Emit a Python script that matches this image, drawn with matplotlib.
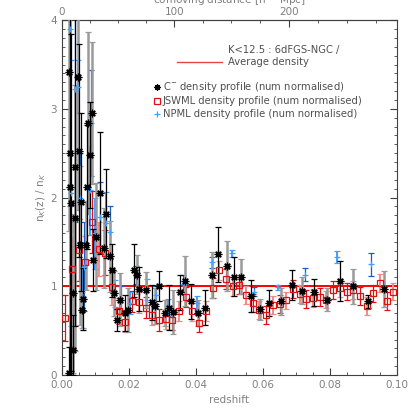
import numpy as np
import matplotlib
matplotlib.use("Agg")
import matplotlib.pyplot as plt
from matplotlib.ticker import MultipleLocator

# C^- density profile (black asterisks): redshift, n(z)/n, error
cm_z = [0.0020, 0.0022, 0.0024, 0.0025, 0.0027, 0.0032, 0.0034, 0.0038, 0.0039, 0.0047,
        0.0050, 0.0054, 0.0056, 0.0060, 0.0064, 0.0072, 0.0074, 0.0079, 0.0084, 0.0089,
        0.0093, 0.0101, 0.0113, 0.0126, 0.0133, 0.0145, 0.0149, 0.0155, 0.0165, 0.0173,
        0.0188, 0.0198, 0.0214, 0.0223, 0.0230, 0.0251, 0.0268, 0.0278, 0.0290, 0.0307,
        0.0320, 0.0332, 0.0352, 0.0369, 0.0387, 0.0407, 0.0427, 0.0447, 0.0467, 0.0492,
        0.0514, 0.0534, 0.0566, 0.0591, 0.0619, 0.0653, 0.0686, 0.0717, 0.0752, 0.0792,
        0.0830, 0.0870, 0.0913, 0.0961]
cm_n = [0.02, 3.42, 2.50, 2.12, 1.94, 0.92, 0.28, 1.77, 2.35, 3.36,
        2.53, 1.46, 1.95, 0.73, 0.86, 1.46, 2.12, 2.84, 2.48, 2.95,
        1.30, 1.56, 2.05, 1.43, 1.82, 1.34, 1.18, 0.92, 0.62, 0.85,
        0.70, 0.73, 1.18, 1.13, 0.97, 0.96, 0.82, 0.78, 1.00, 0.70,
        0.76, 0.71, 0.93, 1.06, 0.83, 0.70, 0.76, 1.13, 1.36, 1.23,
        1.11, 1.11, 0.89, 0.74, 0.81, 0.83, 1.01, 0.95, 0.93, 0.85,
        1.06, 1.00, 0.83, 0.97]
cm_err = [0.30, 1.80, 2.50, 2.20, 1.90, 0.90, 0.40, 1.50, 1.80, 1.50,
          1.20, 0.90, 1.00, 0.20, 0.35, 0.50, 0.70, 1.03, 0.60, 0.80,
          0.35, 0.60, 0.69, 0.45, 0.50, 0.40, 0.30, 0.25, 0.12, 0.30,
          0.20, 0.25, 0.30, 0.22, 0.25, 0.20, 0.20, 0.20, 0.17, 0.15,
          0.25, 0.25, 0.20, 0.28, 0.20, 0.15, 0.20, 0.26, 0.31, 0.28,
          0.22, 0.20, 0.18, 0.12, 0.15, 0.15, 0.17, 0.15, 0.15, 0.13,
          0.23, 0.20, 0.07, 0.20]

# JSWML density profile (red squares), bins of dz = 0.002
jswml_z = [0.001, 0.003, 0.005, 0.007, 0.009, 0.011, 0.013, 0.015, 0.017, 0.019,
           0.021, 0.023, 0.025, 0.027, 0.029, 0.031, 0.033, 0.035, 0.037, 0.039,
           0.041, 0.043, 0.045, 0.047, 0.049, 0.051, 0.053, 0.055, 0.057, 0.059,
           0.061, 0.063, 0.065, 0.067, 0.069, 0.071, 0.073, 0.075, 0.077, 0.079,
           0.081, 0.083, 0.085, 0.087, 0.089, 0.091, 0.093, 0.095, 0.097, 0.099]
jswml_n = [0.64, 1.20, 1.41, 1.27, 1.72, 1.42, 1.38, 0.99, 0.72, 0.60,
           0.83, 0.82, 0.76, 0.68, 0.62, 0.63, 0.62, 0.72, 0.88, 0.72,
           0.59, 0.72, 0.98, 1.18, 1.08, 1.00, 1.01, 0.90, 0.81, 0.73,
           0.68, 0.79, 0.80, 0.84, 0.97, 0.91, 0.86, 0.87, 0.88, 0.85,
           0.96, 0.98, 0.94, 0.96, 0.89, 0.78, 0.92, 1.04, 0.83, 0.94]
jswml_err = [0.26, 0.35, 0.35, 0.30, 0.35, 0.30, 0.25, 0.20, 0.15, 0.12,
             0.12, 0.12, 0.12, 0.12, 0.12, 0.11, 0.11, 0.11, 0.11, 0.11,
             0.11, 0.11, 0.11, 0.11, 0.11, 0.11, 0.10, 0.10, 0.10, 0.10,
             0.10, 0.10, 0.10, 0.10, 0.10, 0.10, 0.10, 0.10, 0.10, 0.10,
             0.10, 0.10, 0.10, 0.10, 0.10, 0.10, 0.10, 0.10, 0.10, 0.10]

# NPML density profile (blue plus)
npml_z = [0.0023, 0.0027, 0.0039, 0.0048, 0.0055, 0.0062, 0.0066, 0.0084, 0.0086, 0.0100,
          0.0113, 0.0133, 0.0145, 0.0158, 0.0178, 0.0203, 0.0221, 0.0253, 0.0280, 0.0317,
          0.0362, 0.0403, 0.0448, 0.0509, 0.0574, 0.0645, 0.0725, 0.0821, 0.0924]
npml_n = [3.90, 2.05, 3.22, 3.25, 2.00, 0.88, 1.22, 2.08, 2.84, 1.60,
          1.78, 1.71, 1.61, 0.92, 0.85, 0.81, 1.13, 0.96, 0.90, 0.76,
          1.03, 0.81, 1.27, 1.37, 0.94, 0.99, 1.13, 1.33, 1.25]
npml_err = [2.00, 1.50, 1.50, 0.30, 0.50, 0.35, 0.50, 0.50, 0.60, 0.40,
            0.40, 0.35, 0.30, 0.15, 0.15, 0.12, 0.10, 0.12, 0.10, 0.10,
            0.10, 0.08, 0.06, 0.04, 0.05, 0.03, 0.075, 0.065, 0.13]

TXT = "#505050"


def comoving(z):
    return 2997.9 * (np.asarray(z) - 0.225 * np.asarray(z) ** 2)


def redshift(d):
    d = np.asarray(d) / 2997.9
    return (1 - np.sqrt(np.clip(1 - 0.9 * d, 0, None))) / 0.45


fig = plt.figure(figsize=(4.15, 4.15), dpi=100)
ax = fig.add_axes([0.149, 0.0964, 0.807, 0.855])

# referentna hustota
ax.axhline(1.0, color="red", lw=1.4, zorder=2)


def draw_errorbars(z, n, err, dark, light, lw_light, marker, ms, mfc, mec):
    z = np.asarray(z)
    n = np.asarray(n)
    err = np.asarray(err)
    lo = np.minimum(err, n)
    idx = np.arange(len(z))
    for sel, col, lw in ((idx % 2 == 1, light, lw_light), (idx % 2 == 0, dark, 0.9)):
        ax.errorbar(z[sel], n[sel], yerr=[lo[sel], err[sel]], fmt="none",
                    ecolor=col, elinewidth=lw, capsize=2.2, capthick=0.9, zorder=3)
    ax.plot(z, n, ls="none", marker=marker, ms=ms, mfc=mfc, mec=mec,
            mew=0.9, zorder=4)


draw_errorbars(jswml_z, jswml_n, jswml_err, "#e01010", "#f08a8a", 1.4,
               "s", 5, "none", "#e01010")
draw_errorbars(npml_z, npml_n, npml_err, "#1a5fc0", "#40a0ff", 1.4,
               "+", 5, "none", "#40a0ff")
draw_errorbars(cm_z, cm_n, cm_err, "black", "#9a9a9a", 1.8,
               (8, 2, 0), 5.5, "none", "black")

ax.set_xlim(0, 0.1)
ax.set_ylim(0, 4)
ax.xaxis.set_major_locator(MultipleLocator(0.02))
ax.xaxis.set_minor_locator(MultipleLocator(0.005))
ax.yaxis.set_major_locator(MultipleLocator(1))
ax.yaxis.set_minor_locator(MultipleLocator(0.1))
ax.xaxis.set_major_formatter(plt.FuncFormatter(lambda v, p: f"{v:.2f}"))
ax.tick_params(which="both", direction="in", right=True, top=False,
               colors="#404040", labelcolor="#808080", labelsize=7.5)
ax.tick_params(which="major", length=5)
ax.tick_params(which="minor", length=2.5)
for s in ax.spines.values():
    s.set_color("#404040")
    s.set_linewidth(0.8)

ax.set_xlabel("redshift", color="#808080", fontsize=7.5, labelpad=4)
ax.set_ylabel(r"n$_K$(z) / n$_K$", color="#808080", fontsize=7.5, labelpad=2)

top = ax.secondary_xaxis("top", functions=(comoving, redshift))
top.xaxis.set_major_locator(MultipleLocator(100))
top.xaxis.set_minor_locator(MultipleLocator(25))
top.tick_params(which="both", direction="in", colors="#404040",
                labelcolor="#808080", labelsize=7.5, pad=2.5)
top.tick_params(which="major", length=5)
top.tick_params(which="minor", length=2.5)
top.spines["top"].set_color("#404040")
top.set_xlabel(r"comoving distance [h$^{-1}$ Mpc]", color="#808080",
               fontsize=7.5, labelpad=2)

# legenda
ax.plot([0.343, 0.478], [0.8825, 0.8825], color="#ee4444", lw=1.0,
        transform=ax.transAxes, clip_on=False)
ax.text(0.4955, 0.9155, "K<12.5 : 6dFGS-NGC /", transform=ax.transAxes,
        color=TXT, fontsize=7.2, va="center")
ax.text(0.4955, 0.882, "Average density", transform=ax.transAxes,
        color=TXT, fontsize=7.2, va="center")
legend_rows = [
    ((8, 2, 0), "black", r"C$^{-}$ density profile (num normalised)", 0.811),
    ("s", "#e01010", "JSWML density profile (num normalised)", 0.772),
    ("+", "#40a0ff", "NPML density profile (num normalised)", 0.735),
]
for mk, col, label, yy in legend_rows:
    ax.plot([0.2836], [yy], ls="none", marker=mk, ms=4.5, mfc="none", mec=col,
            mew=0.9, transform=ax.transAxes)
    ax.text(0.3015, yy, label, transform=ax.transAxes, color=TXT,
            fontsize=7.2, va="center")

fig.savefig("out.png", dpi=100)
